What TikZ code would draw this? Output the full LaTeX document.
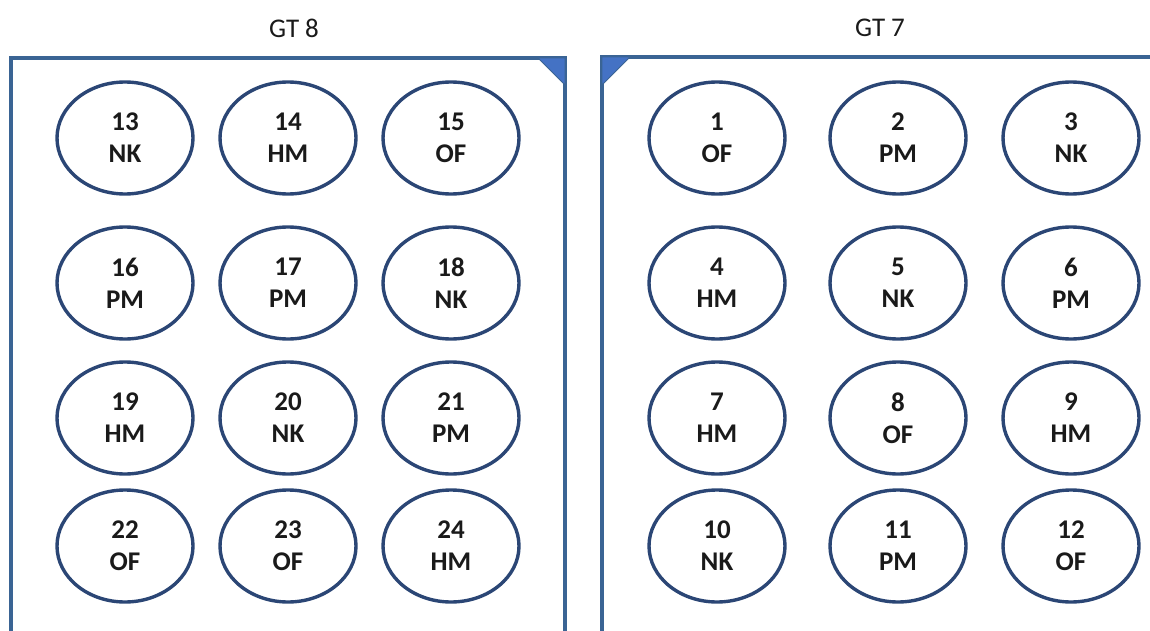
\documentclass[tikz,border=0pt]{standalone}
\usepackage{fontspec}
\setmainfont{Carlito}
\usepackage{tikz}
\usetikzlibrary{shapes.geometric}
\definecolor{gtFrame}{HTML}{3A6494}
\definecolor{gtCorner}{HTML}{4472C4}
\definecolor{gtRing}{HTML}{2B4675}
\definecolor{gtInk}{HTML}{1A1A1A}
\tikzset{
  gt diagram/.style={x=1pt, y=-1pt, text=gtInk,
    font=\fontsize{27}{32}\selectfont},
  gt frame/.style={draw=gtFrame, line width=3.2pt},
  gt corner/.style={fill=gtCorner, draw=gtFrame, line width=0.8pt},
  gt seat/.style={ellipse, draw=gtRing, line width=3.4pt, fill=white,
    minimum width=136pt, minimum height=112pt, inner sep=0pt,
    align=center, font=\bfseries\fontsize{27}{32}\selectfont},
  gt title/.style={font=\fontsize{27}{30}\selectfont}
}
\begin{document}
\begin{tikzpicture}[gt diagram]
\useasboundingbox (0,0) rectangle (1150,631);
\node[gt title] (t8) at (294,28) {GT 8};
\node[gt title] (t7) at (880,28) {GT 7};
% left frame, open at the bottom
\draw[gt frame] (11,631) -- (11,58) -- (565,58) -- (565,631);
\filldraw[gt corner] (538,58) -- (565,58) -- (565,85) -- cycle;
% right frame, runs off the right edge
\draw[gt frame] (602,631) -- (602,57) -- (1150,57);
\filldraw[gt corner] (602,57) -- (630,57) -- (602,85) -- cycle;
\foreach \x/\y/\num/\kind in {125/138/13/NK,288/138/14/HM,451/138/15/OF,
    125/283/16/PM,288/283/17/PM,451/283/18/NK,
    125/418/19/HM,288/418/20/NK,451/418/21/PM,
    125/546/22/OF,288/546/23/OF,451/546/24/HM,
    717/138/1/OF,898/138/2/PM,1071/138/3/NK,
    717/283/4/HM,898/283/5/NK,1071/283/6/PM,
    717/418/7/HM,898/418/8/OF,1071/418/9/HM,
    717/546/10/NK,898/546/11/PM,1071/546/12/OF}
  \node[gt seat] (s\num) at (\x,\y) {\num\\\kind};
\end{tikzpicture}
\end{document}
